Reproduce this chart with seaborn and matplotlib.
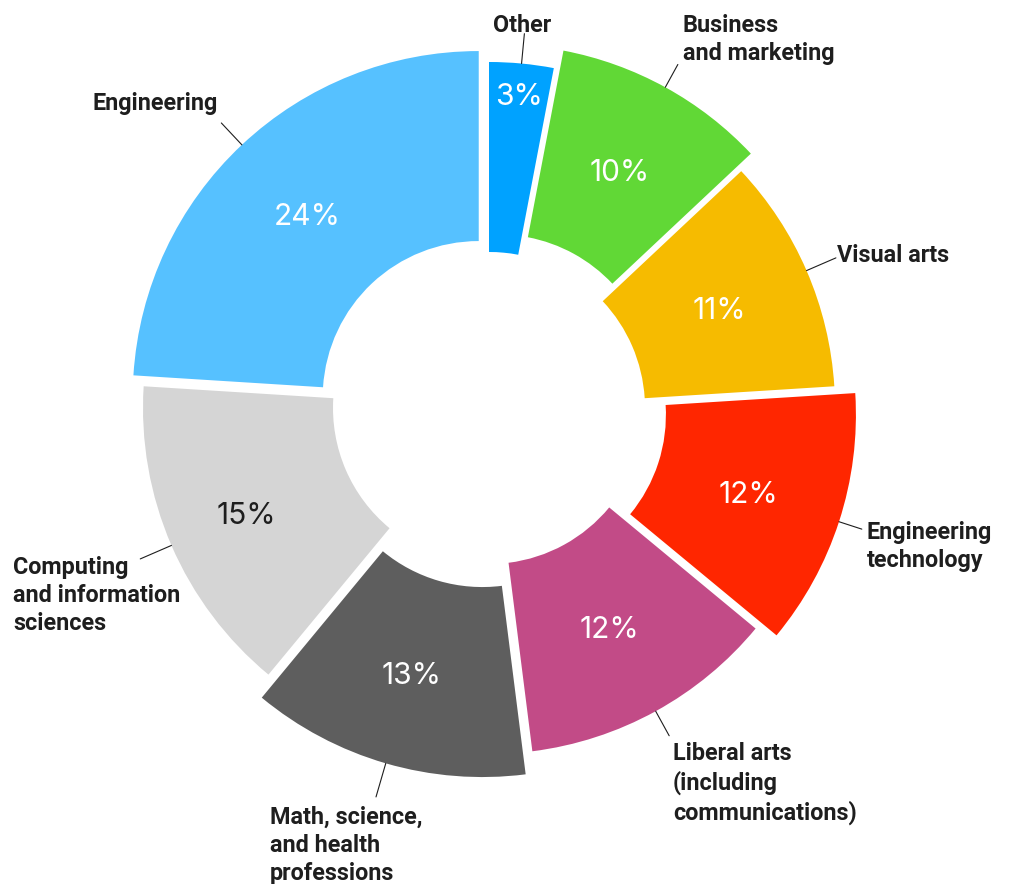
import numpy as np
import seaborn as sns
import matplotlib.pyplot as plt

# data, clockwise from 12 o'clock
categories = ['Other', 'Business\nand marketing', 'Visual arts', 'Engineering\ntechnology',
              'Liberal arts\n(including\ncommunications)', 'Math, science,\nand health\nprofessions',
              'Computing\nand information\nsciences', 'Engineering']
shares = [3, 10, 11, 12, 12, 13, 15, 24]
pct_labels = ['3%', '10%', '11%', '12%', '12%', '13%', '15%', '24%']
colors = ['#00A2FF', '#61D836', '#F6BB00', '#FF2600', '#C24B87', '#5E5E5E', '#D5D5D5', '#56C1FF']

# layout (pixels in the 1010x884 picture)
S = 346.0           # outer radius in px
CX, CY = 489, 408   # pie centre
explode_px = [0, 20, 0, 22, 0, 24, 0, 15]
ring_px = 190
leader_px = [30, 26, 32, 24, 28, 35, 34, 30]
# top-left of each label block
label_pos = [(522, 14), (683, 14), (837, 244), (867, 521),
             (673, 742), (270, 806), (13, 556), (92, 92)]
pct_r = [0.91, 0.725, 0.725, 0.725, 0.725, 0.73, 0.765, 0.725]
dark = '#1E1E1E'


def px(x, y):
    return (x - CX) / S, (CY - y) / S


sns.set_theme(style='white')
plt.rcParams['font.family'] = ['Roboto', 'DejaVu Sans']

fig = plt.figure(figsize=(10.10, 8.84), dpi=100)
ax = fig.add_axes([0, 0, 1, 1])

wedges, _ = ax.pie(shares, colors=sns.color_palette(colors), startangle=90, counterclock=False,
                   explode=[e / S for e in explode_px], radius=1.0,
                   wedgeprops=dict(width=ring_px / S, linewidth=0, antialiased=True))

# pie() resets the limits, so set them afterwards
ax.set_xlim(-CX / S, (1010 - CX) / S)
ax.set_ylim(-(884 - CY) / S, CY / S)
ax.set_aspect('equal')
ax.axis('off')

for i, w in enumerate(wedges):
    a = np.deg2rad((w.theta1 + w.theta2) / 2)
    cx, cy = w.center
    u = np.array([np.cos(a), np.sin(a)])
    # percentage inside the ring
    p = np.array([cx, cy]) + pct_r[i] * u
    ax.annotate(pct_labels[i], xy=p, xytext=(0, -10.5), textcoords='offset pixels',
                ha='center', va='baseline', fontsize=21.5, family=['Inter', 'DejaVu Sans'],
                color=dark if i == 6 else 'white')
    # leader line
    p0 = np.array([cx, cy]) + u
    p1 = p0 + leader_px[i] / S * u
    ax.plot([p0[0], p1[0]], [p0[1], p1[1]], color=dark, lw=0.8)
    # category label
    lx, ly = px(*label_pos[i])
    ax.text(lx, ly, categories[i], ha='center' if i == 0 else 'left', va='top',
            fontsize=16.8, fontweight='bold', color=dark, linespacing=1.28)

fig.savefig('out.png', dpi=100, facecolor='white')
